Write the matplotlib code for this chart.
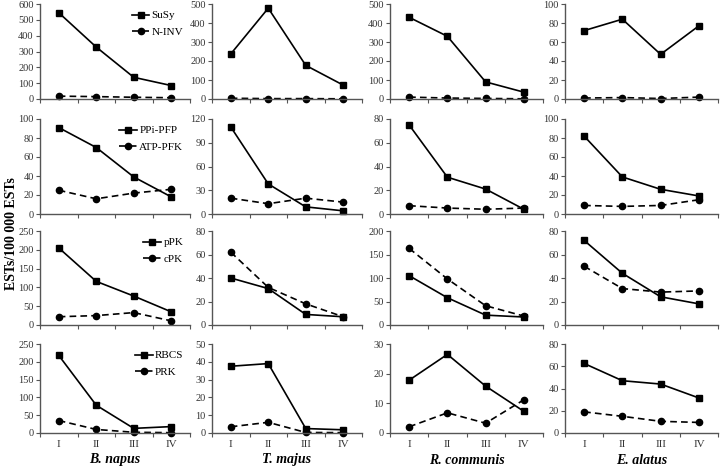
import matplotlib
matplotlib.use("Agg")
import matplotlib.pyplot as plt

plt.rcParams['font.family'] = ['Liberation Serif', 'DejaVu Serif']

species = ["B. napus", "T. majus", "R. communis", "E. alatus"]
stages = ["I", "II", "III", "IV"]

# Row 1
susy = [[545, 328, 137, 85], [237, 478, 177, 73], [430, 330, 90, 36], [72, 84, 47, 77]]
ninv = [[18, 15, 11, 8], [4, 2, 2, 1], [10, 5, 3, 1], [1, 1.5, 0.5, 2]]
# Row 2
ppi_pfp = [[91, 70, 39, 18], [110, 38, 9, 4], [75, 31, 21, 4], [82, 39, 26, 19]]
atp_pfk = [[25, 16, 22, 26], [20, 13, 20, 15], [7, 5, 4, 5], [9, 8, 9, 15]]
# Row 3
ppk = [[205, 116, 77, 35], [40, 31, 9, 7], [105, 58, 21, 17], [72, 44, 24, 18]]
cpk = [[22, 25, 33, 11], [62, 32, 18, 7], [163, 98, 41, 19], [50, 31, 28, 29]]
# Row 4
rbcs = [[218, 78, 13, 18], [37.5, 39, 2.5, 1.8], [17.8, 26.5, 15.8, 7.3], [62.5, 47, 44, 31.5]]
prk = [[35, 10, 2, 1], [3.5, 6, 0.3, 0.2], [2.1, 6.8, 3.3, 11.2], [19, 15, 10.5, 9.5]]

row_series = [(susy, ninv), (ppi_pfp, atp_pfk), (ppk, cpk), (rbcs, prk)]
row_labels = [("SuSy", "N-INV"), ("PPi-PFP", "ATP-PFK"), ("pPK", "cPK"), ("RBCS", "PRK")]

y_max = [[600, 500, 500, 100], [100, 120, 80, 100], [250, 80, 200, 80], [250, 50, 30, 80]]
y_step = [[100, 100, 100, 20], [20, 30, 20, 20], [50, 20, 50, 20], [50, 10, 10, 20]]

W, H = 720, 467
fig = plt.figure(figsize=(7.2, 4.67), dpi=100)

col_left = [40, 212, 390, 565]
col_w = [150, 150, 153, 153]
row_top = [4, 119, 231, 344]
row_bot = [99, 214, 325, 433]

tick_color = '#333333'
for r in range(4):
    s1, s2 = row_series[r]
    l1, l2 = row_labels[r]
    for c in range(4):
        x0 = col_left[c] / W
        y0 = 1 - row_bot[r] / H
        ax = fig.add_axes([x0, y0, col_w[c] / W, (row_bot[r] - row_top[r]) / H])
        xs = [0.5, 1.5, 2.5, 3.5]
        ax.plot(xs, s1[c], color='black', lw=1.2, marker='s', ms=5, label=l1, clip_on=False)
        ax.plot(xs, s2[c], color='black', lw=1.2, ls=(0, (4, 2.5)), marker='o', ms=4.5,
                label=l2, clip_on=False)
        ax.set_xlim(0, 4)
        ax.set_ylim(0, y_max[r][c])
        step = y_step[r][c]
        ax.set_yticks(list(range(0, y_max[r][c] + 1, step)))
        ax.set_xticks([0, 1, 2, 3, 4])
        ax.set_xticklabels([])
        ax.set_xticks(xs, minor=True)
        if r == 3:
            ax.set_xticklabels(stages, minor=True)
        ax.tick_params(axis='x', which='minor', length=0, labelsize=8, pad=5, colors=tick_color)
        ax.tick_params(axis='x', which='major', length=3, direction='out', color='#555555')
        ax.tick_params(axis='y', length=3, direction='out', labelsize=7.5, pad=1.5,
                       colors=tick_color, color='#555555')
        for sp in ['top', 'right']:
            ax.spines[sp].set_visible(False)
        for sp in ['left', 'bottom']:
            ax.spines[sp].set_color('#555555')
            ax.spines[sp].set_linewidth(1.0)
        ax.patch.set_alpha(0)
        if c == 0:
            ax.legend(loc='upper right', frameon=False, fontsize=8, handlelength=1.6,
                      handletextpad=0.2, labelspacing=0.6, borderaxespad=0.2,
                      bbox_to_anchor=(1.0, 1.0))
        if r == 3:
            xc = (col_left[c] + col_w[c] / 2) / W
            fig.text(xc, 1 - 460 / H, species[c], ha='center', va='center',
                     fontsize=10, fontweight='bold', fontstyle='italic')

fig.text(12 / W, 0.5, "ESTs/100 000 ESTs", rotation=90, ha='center', va='center',
         fontsize=10, fontweight='bold')

fig.savefig("out.png", dpi=100)
